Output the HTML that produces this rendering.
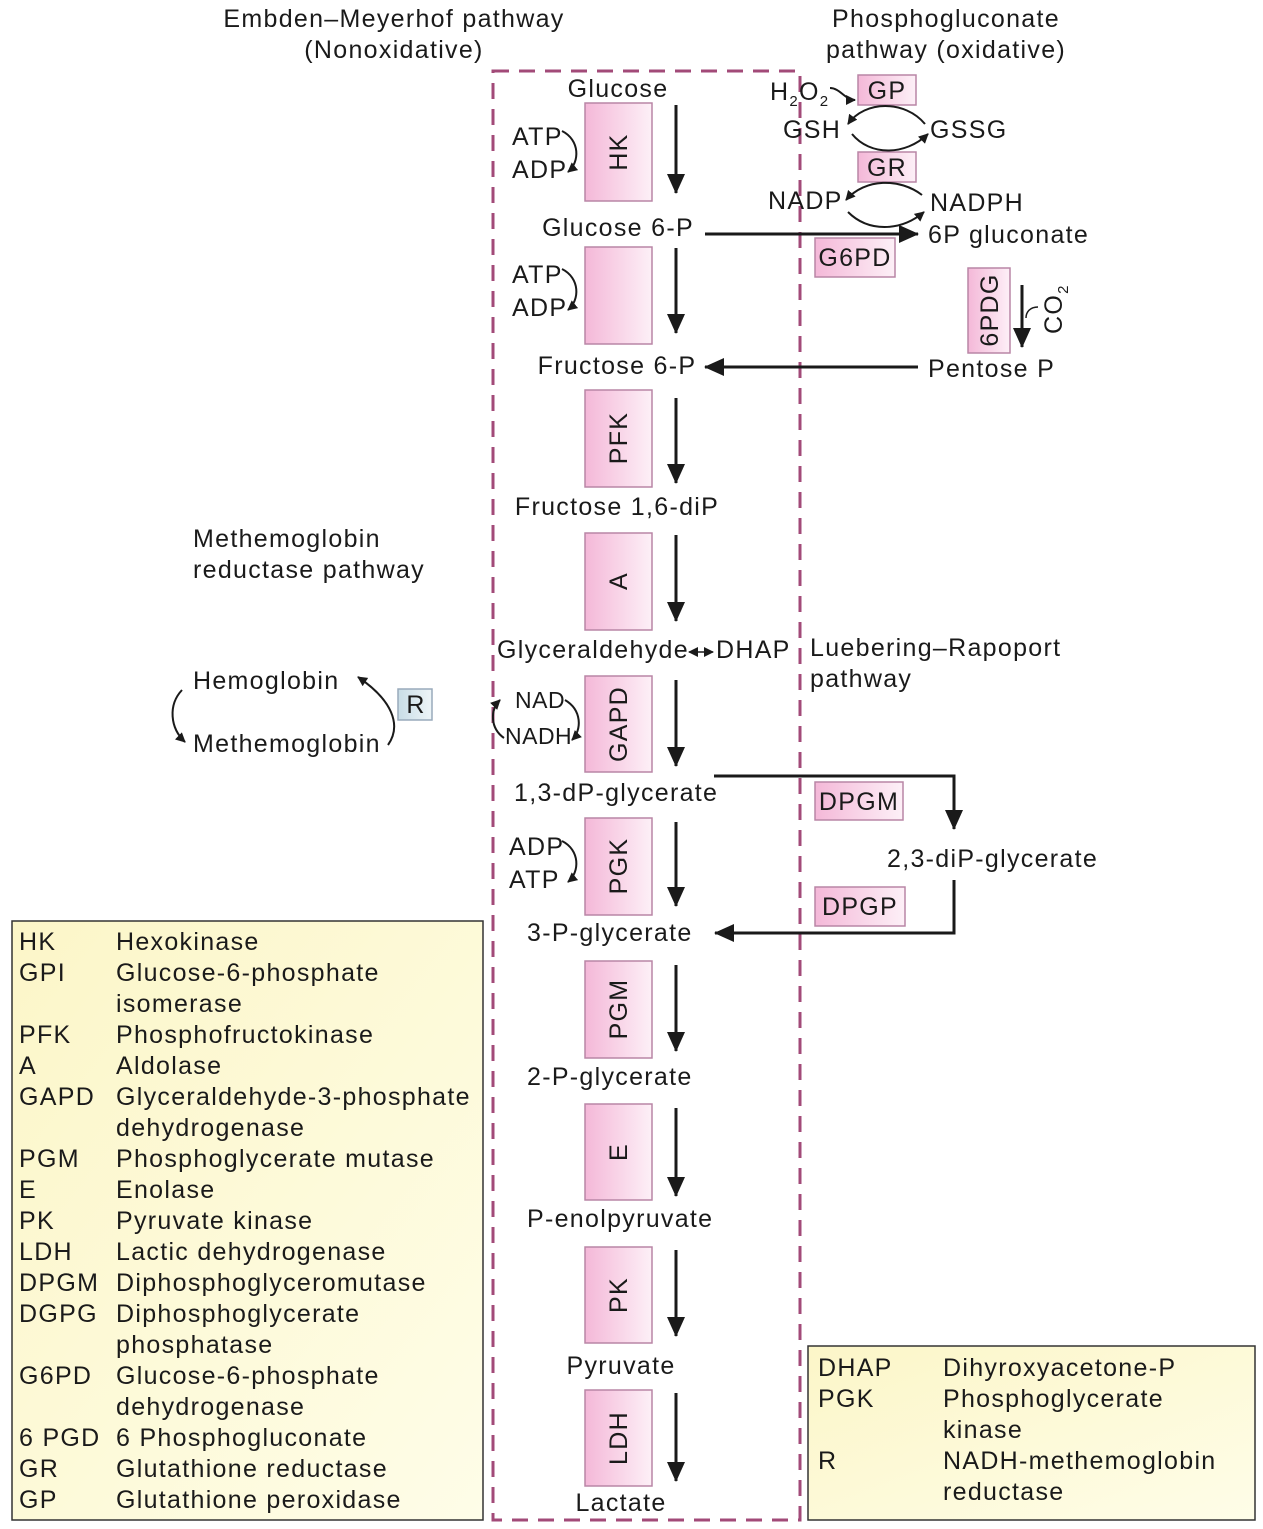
<!DOCTYPE html>
<html><head><meta charset="utf-8"><style>
html,body{margin:0;padding:0;background:#fff;}
svg{display:block;font-family:"Liberation Sans",Arial,sans-serif;}
text{fill:#1a1a1a;font-size:25px;letter-spacing:1.3px;}
</style></head><body>
<svg width="1263" height="1529" viewBox="0 0 1263 1529" xmlns="http://www.w3.org/2000/svg">
<defs>
<linearGradient id="pk" x1="0" x2="1" y1="0" y2="0"><stop offset="0" stop-color="#f4b8d8"/><stop offset="1" stop-color="#fdf0f7"/></linearGradient>
<linearGradient id="yl" x1="0" x2="1" y1="0" y2="1"><stop offset="0" stop-color="#fcf6c8"/><stop offset="1" stop-color="#fefde8"/></linearGradient>
<linearGradient id="bl" x1="0" x2="1"><stop offset="0" stop-color="#c8dde6"/><stop offset="1" stop-color="#eef5f8"/></linearGradient>
<marker id="ah" markerWidth="10" markerHeight="10" refX="9" refY="5" orient="auto-start-reverse" markerUnits="userSpaceOnUse"><path d="M0,0 L10,5 L0,10 Z" fill="#1a1a1a"/></marker>
<marker id="big" markerWidth="20" markerHeight="18" refX="19" refY="9" orient="auto" markerUnits="userSpaceOnUse"><path d="M0,0 L20,9 L0,18 Z" fill="#1a1a1a"/></marker>
</defs>

<text x="394" y="27" text-anchor="middle">Embden–Meyerhof pathway</text>
<text x="394" y="58" text-anchor="middle">(Nonoxidative)</text>
<text x="946" y="27" text-anchor="middle">Phosphogluconate</text>
<text x="946" y="58" text-anchor="middle">pathway (oxidative)</text>

<rect x="493" y="71" width="307" height="1449" fill="none" stroke="#a24a78" stroke-width="3" stroke-dasharray="16,10"/>

<rect x="12" y="921" width="471" height="599" fill="url(#yl)" stroke="#333" stroke-width="1.5"/>
<rect x="808" y="1346" width="447" height="174" fill="url(#yl)" stroke="#333" stroke-width="1.5"/>

<g stroke="#b986a6" stroke-width="1.5" fill="url(#pk)">
<rect x="585" y="103" width="67" height="98"/>
<rect x="585" y="247" width="67" height="97"/>
<rect x="585" y="390" width="67" height="97"/>
<rect x="585" y="533" width="67" height="97"/>
<rect x="585" y="676" width="67" height="96"/>
<rect x="585" y="818" width="67" height="97"/>
<rect x="585" y="961" width="67" height="97"/>
<rect x="585" y="1104" width="67" height="96"/>
<rect x="585" y="1247" width="67" height="96"/>
<rect x="585" y="1390" width="67" height="96"/>
<rect x="858" y="75" width="58" height="30"/>
<rect x="858" y="152" width="58" height="30"/>
<rect x="815" y="238" width="80" height="39"/>
<rect x="968" y="268" width="42" height="85"/>
<rect x="815" y="782" width="88" height="38"/>
<rect x="815" y="887" width="90" height="39"/>
</g>
<rect x="398" y="689" width="34" height="31" fill="url(#bl)" stroke="#9ab" stroke-width="1.5"/>

<g text-anchor="middle">
<text transform="translate(627,152) rotate(-90)">HK</text>
<text transform="translate(627,438) rotate(-90)">PFK</text>
<text transform="translate(627,581) rotate(-90)">A</text>
<text transform="translate(627,724) rotate(-90)">GAPD</text>
<text transform="translate(627,866) rotate(-90)">PGK</text>
<text transform="translate(627,1009) rotate(-90)">PGM</text>
<text transform="translate(627,1152) rotate(-90)">E</text>
<text transform="translate(627,1295) rotate(-90)">PK</text>
<text transform="translate(627,1438) rotate(-90)">LDH</text>
<text transform="translate(998,310) rotate(-90)">6PDG</text>
<text x="887" y="99">GP</text>
<text x="887" y="176">GR</text>
<text x="855" y="266">G6PD</text>
<text x="859" y="810">DPGM</text>
<text x="860" y="915">DPGP</text>
<text x="416" y="713">R</text>
</g>

<g text-anchor="middle">
<text x="618" y="97">Glucose</text>
<text x="618" y="236">Glucose 6-P</text>
<text x="617" y="374">Fructose 6-P</text>
<text x="617" y="515">Fructose 1,6-diP</text>
<text x="621" y="1374">Pyruvate</text>
<text x="621" y="1511">Lactate</text>
</g>
<text x="497" y="658">Glyceraldehyde</text>
<text x="716" y="658">DHAP</text>
<line x1="689" y1="652" x2="713" y2="652" stroke="#1a1a1a" stroke-width="1.5" marker-start="url(#ah)" marker-end="url(#ah)"/>
<text x="514" y="801">1,3-dP-glycerate</text>
<text x="527" y="941">3-P-glycerate</text>
<text x="527" y="1085">2-P-glycerate</text>
<text x="527" y="1227">P-enolpyruvate</text>

<g stroke="#1a1a1a" stroke-width="3" marker-end="url(#big)">
<line x1="676" y1="105" x2="676" y2="193"/>
<line x1="676" y1="248" x2="676" y2="333"/>
<line x1="676" y1="398" x2="676" y2="483"/>
<line x1="676" y1="535" x2="676" y2="621"/>
<line x1="676" y1="680" x2="676" y2="766"/>
<line x1="676" y1="822" x2="676" y2="906"/>
<line x1="676" y1="965" x2="676" y2="1051"/>
<line x1="676" y1="1108" x2="676" y2="1196"/>
<line x1="676" y1="1250" x2="676" y2="1336"/>
<line x1="676" y1="1393" x2="676" y2="1481"/>
<line x1="705" y1="234" x2="918" y2="234"/>
<line x1="918" y1="367" x2="705" y2="367"/>
<line x1="1022" y1="285" x2="1022" y2="347"/>
<polyline points="714,776 954,776 954,829" fill="none"/>
<polyline points="954,880 954,933 715,933" fill="none"/>
</g>

<text x="512" y="145">ATP</text><text x="512" y="178">ADP</text>
<text x="512" y="283">ATP</text><text x="512" y="316">ADP</text>
<text x="509" y="855">ADP</text><text x="509" y="888">ATP</text>
<text x="515" y="708" style="font-size:23px;letter-spacing:0.5px">NAD</text><text x="505" y="744" style="font-size:23px;letter-spacing:0.5px">NADH</text>
<g fill="none" stroke="#1a1a1a" stroke-width="2" marker-end="url(#ah)">
<path d="M562,131 C580,140 580,162 568,172"/>
<path d="M562,269 C580,278 580,300 568,310"/>
<path d="M562,841 C580,850 580,872 568,882"/>
<path d="M565,700 C582,710 582,730 572,740"/>
<path d="M504,738 C490,728 490,710 500,700"/>
<path d="M830,88 C840,88 845,100 855,100"/>
<path d="M925,124 C905,100 865,100 848,124"/>
<path d="M852,134 C870,156 905,156 928,134"/>
<path d="M922,195 C900,178 865,178 846,200"/>
<path d="M848,212 C868,232 900,232 924,212"/>
<path d="M388,745 C402,725 392,700 358,677"/>
<path d="M182,690 C168,705 170,728 185,742"/>
</g>
<path d="M1038,307 C1030,307 1026,312 1026,318" fill="none" stroke="#1a1a1a" stroke-width="1.5"/>

<text x="770" y="100">H<tspan font-size="15" dy="6">2</tspan><tspan dy="-6">O</tspan><tspan font-size="15" dy="6">2</tspan></text>
<text x="783" y="138">GSH</text>
<text x="930" y="138">GSSG</text>
<text x="768" y="209">NADP</text>
<text x="930" y="211">NADPH</text>
<text x="928" y="243">6P gluconate</text>
<text transform="translate(1062,334) rotate(-90)">CO<tspan font-size="15" dy="6">2</tspan></text>
<text x="928" y="377">Pentose P</text>
<text x="810" y="656">Luebering–Rapoport</text>
<text x="810" y="687">pathway</text>
<text x="887" y="867">2,3-diP-glycerate</text>
<text x="193" y="547">Methemoglobin</text>
<text x="193" y="578">reductase pathway</text>
<text x="193" y="689">Hemoglobin</text>
<text x="193" y="752">Methemoglobin</text>

<g>
<text x="19" y="950">HK</text><text x="116" y="950">Hexokinase</text>
<text x="19" y="981">GPI</text><text x="116" y="981">Glucose-6-phosphate</text>
<text x="116" y="1012">isomerase</text>
<text x="19" y="1043">PFK</text><text x="116" y="1043">Phosphofructokinase</text>
<text x="19" y="1074">A</text><text x="116" y="1074">Aldolase</text>
<text x="19" y="1105">GAPD</text><text x="116" y="1105">Glyceraldehyde-3-phosphate</text>
<text x="116" y="1136">dehydrogenase</text>
<text x="19" y="1167">PGM</text><text x="116" y="1167">Phosphoglycerate mutase</text>
<text x="19" y="1198">E</text><text x="116" y="1198">Enolase</text>
<text x="19" y="1229">PK</text><text x="116" y="1229">Pyruvate kinase</text>
<text x="19" y="1260">LDH</text><text x="116" y="1260">Lactic dehydrogenase</text>
<text x="19" y="1291">DPGM</text><text x="116" y="1291">Diphosphoglyceromutase</text>
<text x="19" y="1322">DGPG</text><text x="116" y="1322">Diphosphoglycerate</text>
<text x="116" y="1353">phosphatase</text>
<text x="19" y="1384">G6PD</text><text x="116" y="1384">Glucose-6-phosphate</text>
<text x="116" y="1415">dehydrogenase</text>
<text x="19" y="1446">6 PGD</text><text x="116" y="1446">6 Phosphogluconate</text>
<text x="19" y="1477">GR</text><text x="116" y="1477">Glutathione reductase</text>
<text x="19" y="1508">GP</text><text x="116" y="1508">Glutathione peroxidase</text>
</g>
<g>
<text x="818" y="1376">DHAP</text><text x="943" y="1376">Dihyroxyacetone-P</text>
<text x="818" y="1407">PGK</text><text x="943" y="1407">Phosphoglycerate</text>
<text x="943" y="1438">kinase</text>
<text x="818" y="1469">R</text><text x="943" y="1469">NADH-methemoglobin</text>
<text x="943" y="1500">reductase</text>
</g>
</svg>
</body></html>
